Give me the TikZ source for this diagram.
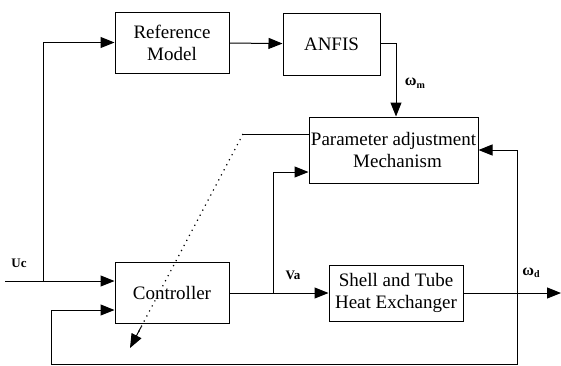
\documentclass[tikz,border=0pt]{standalone}
\usepackage{fontspec}
\setmainfont{Liberation Serif}
\usetikzlibrary{arrows.meta,calc}
\begin{document}
\begin{tikzpicture}[x=1pt,y=-1pt,
  blk/.style={draw, line width=1pt, align=center, inner sep=0pt,
    font=\fontsize{19}{22}\selectfont},
  lbl/.style={font=\fontsize{13}{14}\selectfont\bfseries, inner sep=0pt},
  conn/.style={line width=1pt},
  arr/.style={conn, -{Triangle[length=14pt,width=11pt]}}]
\useasboundingbox (0,0) rectangle (561,365);
\node[blk, minimum width=114pt, minimum height=61pt] (ref) at (172,42.5) {Reference\\Model};
\node[blk, minimum width=97pt, minimum height=62pt] (anfis) at (331.5,44) {ANFIS};
\node[blk, minimum width=169pt, minimum height=66pt] (param) at (393.5,150) {Parameter adjustment\\\hspace*{8pt}Mechanism};
\node[blk, minimum width=114pt, minimum height=61pt] (ctrl) at (172,293) {Controller};
\node[blk, minimum width=134pt, minimum height=56pt] (shell) at (396,293) {Shell and Tube\\Heat Exchanger};
\node[lbl] (uc) at (19,263) {Uc};
\node[lbl] (va) at (293,275) {Va};
\node[lbl] (wm) at (415,83) {{\fontsize{16}{16}\selectfont ω}\raisebox{-2.5pt}{\fontsize{10}{10}\selectfont m}};
\node[lbl] (wd) at (531,273) {{\fontsize{16}{16}\selectfont ω}\raisebox{-2.5pt}{\fontsize{10}{10}\selectfont d}};
\coordinate (uin) at (5,281);
\coordinate (split) at (43,281);
\coordinate (wmc) at (396,43);
\coordinate (br) at (273,293);
\coordinate (fb) at (517,293);
\coordinate (out) at (561,293);
\coordinate (fbl) at (51,364);
\coordinate (fbr) at (517,364);
\coordinate (ds) at (243,134);
\coordinate (de) at (130,348);
\draw[conn] (uin) -- (split);
\draw[arr] (split) -- (ctrl.west |- split);
\draw[arr] (split) |- (ref.west);
\draw[arr] (ref) -- (anfis);
\draw[conn] (anfis.east |- wmc) -- (wmc);
\draw[arr] (wmc) -- (wmc |- param.north);
\draw[conn] (ctrl.east) -- (br);
\draw[arr] (br) -- (shell.west);
\draw[arr] (br) |- ([yshift=-22pt]param.west);
\draw[arr] (shell.east) -- (out);
\draw[arr] (fb) |- (param.east);
\draw[arr] (fb) -- (fbr) -- (fbl) |- ([yshift=-17pt]ctrl.west);
\draw[conn] (ds) -- (ds -| param.west);
\draw[line width=1.2pt, dash pattern=on 1.2pt off 4.5pt] (ds) -- ($(ds)!0.93!(de)$);
\draw[-{Triangle[length=14pt,width=11pt]}, line width=1pt] ($(ds)!0.9!(de)$) -- (de);
\end{tikzpicture}
\end{document}
